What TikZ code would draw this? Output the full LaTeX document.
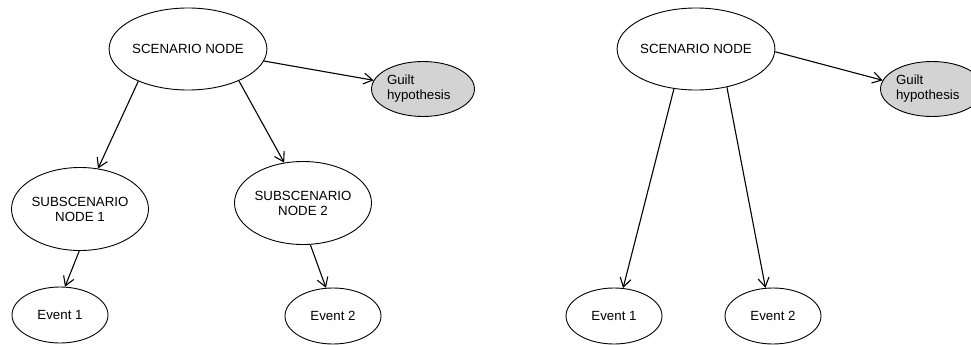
\documentclass[tikz,border=0pt]{standalone}
\usepackage{fontspec}
\setmainfont{Liberation Sans}
\usetikzlibrary{shapes.geometric,arrows.meta}
\definecolor{guiltgray}{RGB}{211,211,211}

\begin{document}
\begin{tikzpicture}[
    x=1pt, y=-1pt,
    oval/.style={
        draw,
        ellipse,
        line width=0.9pt,
        inner sep=0pt,
        align=center,
        font=\fontsize{13.3}{15}\selectfont
    },
    scen/.style={oval, minimum width=136pt, minimum height=82pt},
    subnode/.style={oval, minimum width=137pt, minimum height=83pt},
    event/.style={oval, minimum width=96pt, minimum height=56pt},
    guilt/.style={oval, fill=guiltgray, align=left, text width=72pt, minimum width=103pt, minimum height=55pt},
    arr/.style={
        -{Straight Barb[length=9pt,width=11pt,line width=1.1pt]},
        line width=1.1pt
    }
]
\useasboundingbox (0,0) rectangle (971,345);

% ---------------- Left: with subscenarios ----------------
\node[scen] (scenL) at (188,49) {SCENARIO NODE};
\node[guilt] (guiltL) at (423,89) {Guilt\\hypothesis};

\node[subnode] (subA) at (80,209) {SUBSCENARIO\\NODE 1};
\node[subnode] (subB) at (303,203) {SUBSCENARIO\\NODE 2};

\node[event] (evA) at (60,315) {Event 1};
\node[event] (evB) at (333,316) {Event 2};

\draw[arr] (scenL.351) -- (guiltL.170);
\draw[arr] (scenL.213) -- (subA.66);
\draw[arr] (scenL.328) -- (subB.115);
\draw[arr] (subA.269) -- (evA.80);
\draw[arr] (subB.280) -- (evB.104);

% ---------------- Right: events only ----------------
\node[scen] (scenR) at (696,49) {SCENARIO NODE};
\node[guilt] (guiltR) at (932,89) {Guilt\\hypothesis};

\node[event] (evC) at (614,316) {Event 1};
\node[event] (evD) at (773,316) {Event 2};

\draw[arr] (scenR.358) -- (guiltR.170);
\draw[arr] (scenR.241) -- (evC.72);
\draw[arr] (scenR.309) -- (evD.105);

\end{tikzpicture}
\end{document}
